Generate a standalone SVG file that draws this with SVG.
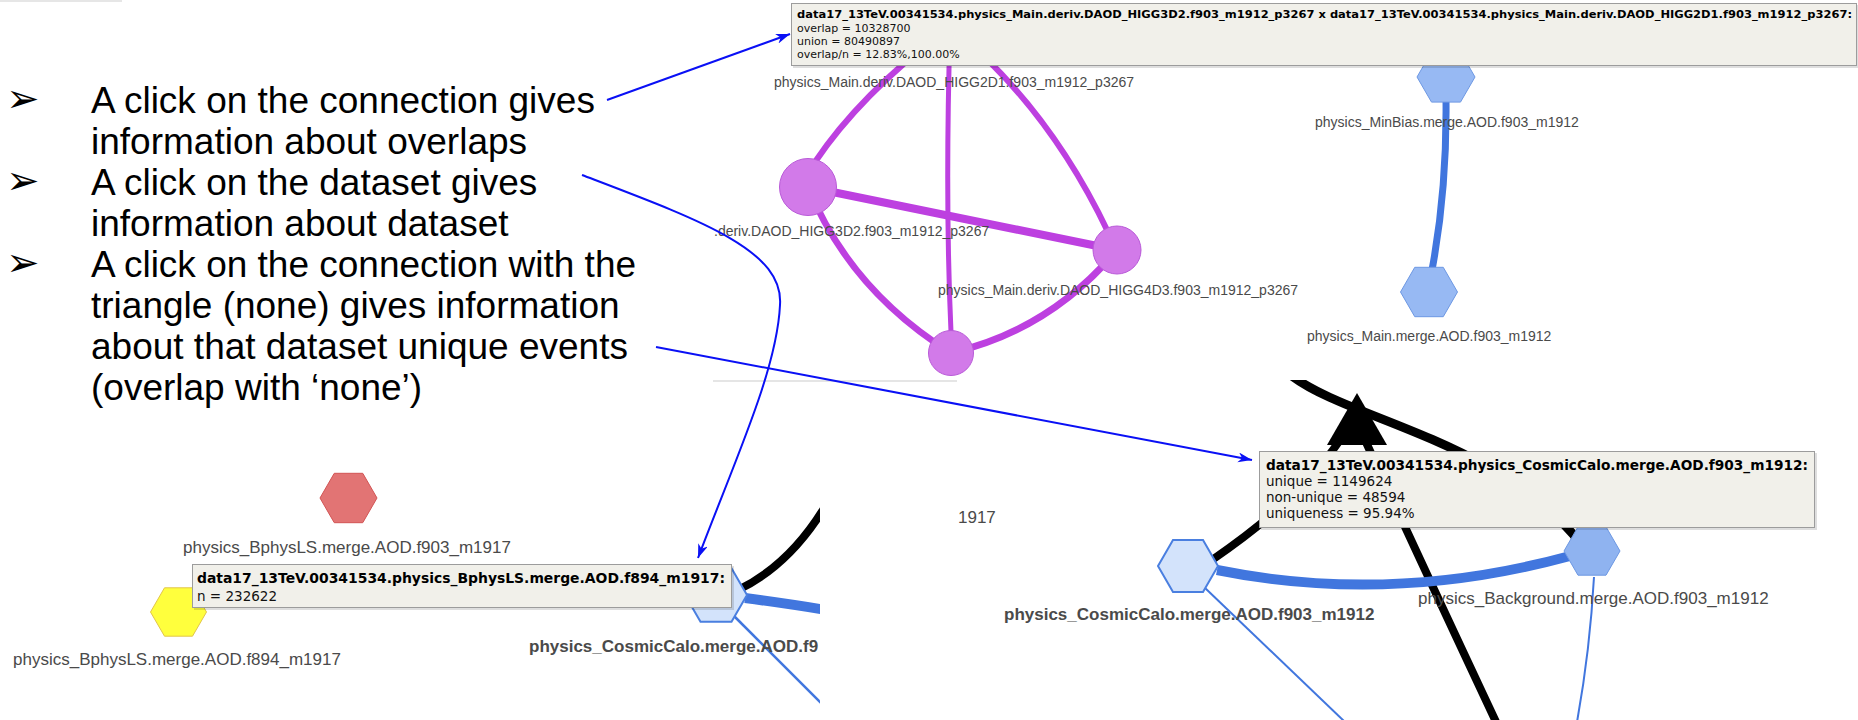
<svg xmlns="http://www.w3.org/2000/svg" width="1858" height="720" viewBox="0 0 1858 720">
<style>
.bul{font-family:"Liberation Sans",Arial,sans-serif;font-size:37px;fill:#000}
.arr{font-family:"DejaVu Sans",sans-serif;font-size:40px;fill:#000}
.lbl{font-family:"Liberation Sans",Arial,sans-serif;fill:#4a4a4a}
.tip{fill:#f1f0ea;stroke:#9c9c9c;stroke-width:1}
.tsh{fill:#000;opacity:0.13}
.tb{font-family:"DejaVu Sans",Verdana,sans-serif;font-weight:bold;fill:#000}
.tr{font-family:"DejaVu Sans",Verdana,sans-serif;fill:#111}
.pe{fill:none;stroke:#bd40e0;stroke-linecap:round}
.pc{fill:#d27ae9;stroke:#b95ad8;stroke-width:1}
.be{fill:none;stroke:#4176de}
.ke{fill:none;stroke:#000}
.ann{fill:none;stroke:#0a10f5;stroke-width:2}
</style>
<defs>
<marker id="ah" markerUnits="userSpaceOnUse" markerWidth="16" markerHeight="12" refX="14" refY="5" orient="auto">
<path d="M0,0 L14,5 L0,10 L4,5 z" fill="#0a10f5"/>
</marker>
<clipPath id="clipBL"><rect x="0" y="380" width="820" height="340"/></clipPath>
<clipPath id="clipBR"><rect x="820" y="380" width="1038" height="340"/></clipPath>
<clipPath id="clipTM"><rect x="713" y="0" width="1145" height="381"/></clipPath>
</defs>
<rect width="1858" height="720" fill="#fff"/>
<line x1="0" y1="1" x2="122" y2="1" stroke="#e6e6e6" stroke-width="2"/>
<line x1="713" y1="381" x2="957" y2="381" stroke="#dcdcdc" stroke-width="1.5"/>

<g id="bullets">
<text class="arr" x="6" y="112">➢</text>
<text class="arr" x="6" y="194">➢</text>
<text class="arr" x="6" y="276">➢</text>
<text class="bul" x="91" y="113">A click on the connection gives</text>
<text class="bul" x="91" y="154">information about overlaps</text>
<text class="bul" x="91" y="195">A click on the dataset gives</text>
<text class="bul" x="91" y="236">information about dataset</text>
<text class="bul" x="91" y="277">A click on the connection with the</text>
<text class="bul" x="91" y="318">triangle (none) gives information</text>
<text class="bul" x="91" y="359">about that dataset unique events</text>
<text class="bul" x="91" y="400">(overlap with ‘none’)</text>
</g>

<g id="connectors">
<g clip-path="url(#clipTM)">
<path class="pe" stroke-width="6" d="M815 162 Q860 95 945 30"/>
<path class="pe" stroke-width="5" d="M950 30 Q945 200 951 332"/>
<path class="pe" stroke-width="6" d="M955 30 Q1050 110 1108 232"/>
<path class="pe" stroke-width="8" d="M808 187 L1117 250"/>
<path class="pe" stroke-width="6.5" d="M808 187 Q850 290 951 353"/>
<path class="pe" stroke-width="7" d="M951 353 Q1050 330 1117 250"/>
<path class="be" stroke-width="7" d="M1446 100 Q1447 190 1432 270"/>
</g>
<g clip-path="url(#clipBL)">
<path class="ke" stroke-width="8" d="M738 590 Q790 565 826 505"/>
<path class="be" stroke-width="10" d="M745 598 Q790 604 826 610"/>
<path class="be" stroke-width="2.5" d="M733 615 L826 708"/>
</g>
<g clip-path="url(#clipBR)">
<path class="ke" stroke-width="9" d="M1292 376 C1350 420 1500 440 1582 545"/>
<path class="ke" stroke-width="8" d="M1340 440 Q1300 500 1212 560"/>
<path class="ke" stroke-width="8" d="M1365 440 Q1420 560 1497 724"/>
<path class="be" stroke-width="10" d="M1217 570 Q1390 605 1570 556"/>
<path class="be" stroke-width="2" d="M1204 587 L1345 722"/>
<path class="be" stroke-width="2" d="M1594 577 Q1590 650 1577 722"/>
</g>
</g>

<g id="node-higg3d2">
<circle class="pc" cx="808" cy="187" r="28.5"/>
<text class="lbl" x="714" y="236" font-size="14">.deriv.DAOD_HIGG3D2.f903_m1912_p3267</text>
</g>
<g id="node-higg4d3">
<circle class="pc" cx="1117" cy="250" r="24"/>
<text class="lbl" x="938" y="295" font-size="14">physics_Main.deriv.DAOD_HIGG4D3.f903_m1912_p3267</text>
</g>
<g id="node-higg-bottom">
<circle class="pc" cx="951" cy="353" r="22.5"/>
</g>
<g id="node-higg2d1">
<text class="lbl" x="774" y="87" font-size="14">physics_Main.deriv.DAOD_HIGG2D1.f903_m1912_p3267</text>
</g>
<g id="node-minbias">
<polygon points="1417,77 1431.5,51.9 1460.5,51.9 1475,77 1460.5,102.1 1431.5,102.1" fill="#97b9f3" stroke="#6d98e3"/>
<text class="lbl" x="1315" y="127" font-size="14">physics_MinBias.merge.AOD.f903_m1912</text>
</g>
<g id="node-main">
<polygon points="1400.5,292 1414.75,267.3 1443.25,267.3 1457.5,292 1443.25,316.7 1414.75,316.7" fill="#97b9f3" stroke="#6d98e3"/>
<text class="lbl" x="1307" y="341" font-size="14">physics_Main.merge.AOD.f903_m1912</text>
</g>

<g id="node-bphysls-f903">
<polygon points="320,498 334.25,473.3 362.75,473.3 377,498 362.75,522.7 334.25,522.7" fill="#e27474" stroke="#d25454"/>
<text class="lbl" x="183" y="553" font-size="17">physics_BphysLS.merge.AOD.f903_m1917</text>
</g>
<g id="node-bphysls-f894">
<polygon points="150.5,612 164.5,587.8 192.5,587.8 206.5,612 192.5,636.2 164.5,636.2" fill="#ffff3d" stroke="#e2c54a"/>
<text class="lbl" x="13" y="665" font-size="17">physics_BphysLS.merge.AOD.f894_m1917</text>
</g>
<g id="node-cosmiccalo-left" clip-path="url(#clipBL)">
<polygon points="685,595 700.5,568.2 731.5,568.2 747,595 731.5,621.8 700.5,621.8" fill="#d3e3fb" stroke="#4a7fe0" stroke-width="2"/>
<text class="lbl" x="529" y="652" font-size="17" font-weight="bold" fill="#333">physics_CosmicCalo.merge.AOD.f9</text>
</g>

<g id="node-label-1917">
<text class="lbl" x="958" y="523" font-size="17">1917</text>
</g>
<g id="node-none">
<polygon points="1357,393 1327,445 1387,445" fill="#000"/>
</g>
<g id="node-cosmiccalo">
<polygon points="1158,566 1173,540 1203,540 1218,566 1203,592 1173,592" fill="#d3e3fb" stroke="#4a7fe0" stroke-width="2"/>
<text class="lbl" x="1004" y="620" font-size="17" font-weight="bold" fill="#333">physics_CosmicCalo.merge.AOD.f903_m1912</text>
</g>
<g id="node-background">
<polygon points="1564,551 1578,526.8 1606,526.8 1620,551 1606,575.2 1578,575.2" fill="#8fb3f0" stroke="#6d98e3"/>
<text class="lbl" x="1418" y="604" font-size="17">physics_Background.merge.AOD.f903_m1912</text>
</g>

<g id="tooltip-overlap">
<rect class="tsh" x="793" y="5" width="1066" height="63"/>
<rect class="tip" x="791.5" y="3.5" width="1065" height="62"/>
<text class="tb" x="797" y="18" font-size="11" textLength="1055" lengthAdjust="spacingAndGlyphs">data17_13TeV.00341534.physics_Main.deriv.DAOD_HIGG3D2.f903_m1912_p3267 x data17_13TeV.00341534.physics_Main.deriv.DAOD_HIGG2D1.f903_m1912_p3267:</text>
<text class="tr" x="797" y="32" font-size="11">overlap = 10328700</text>
<text class="tr" x="797" y="45" font-size="11">union = 80490897</text>
<text class="tr" x="797" y="58" font-size="11">overlap/n = 12.83%,100.00%</text>
</g>
<g id="tooltip-dataset">
<rect class="tsh" x="194" y="566" width="540" height="44"/>
<rect class="tip" x="192.5" y="564.5" width="539" height="43"/>
<text class="tb" x="197" y="583" font-size="13.5" textLength="528" lengthAdjust="spacingAndGlyphs">data17_13TeV.00341534.physics_BphysLS.merge.AOD.f894_m1917:</text>
<text class="tr" x="197" y="601" font-size="13.5">n = 232622</text>
</g>
<g id="tooltip-unique">
<rect class="tsh" x="1261" y="453" width="556" height="77"/>
<rect class="tip" x="1259.5" y="451.5" width="555" height="76"/>
<text class="tb" x="1266" y="470" font-size="13.5" textLength="542" lengthAdjust="spacingAndGlyphs">data17_13TeV.00341534.physics_CosmicCalo.merge.AOD.f903_m1912:</text>
<text class="tr" x="1266" y="486" font-size="13.5">unique = 1149624</text>
<text class="tr" x="1266" y="502" font-size="13.5">non-unique = 48594</text>
<text class="tr" x="1266" y="518" font-size="13.5">uniqueness = 95.94%</text>
</g>

<g id="annotations">
<path class="ann" marker-end="url(#ah)" d="M607 100 L790 34"/>
<path class="ann" marker-end="url(#ah)" d="M582 175 C700 220 784 250 780 305 C777 370 735 460 698 558"/>
<path class="ann" marker-end="url(#ah)" d="M656 347 L1252 460"/>
</g>
</svg>
